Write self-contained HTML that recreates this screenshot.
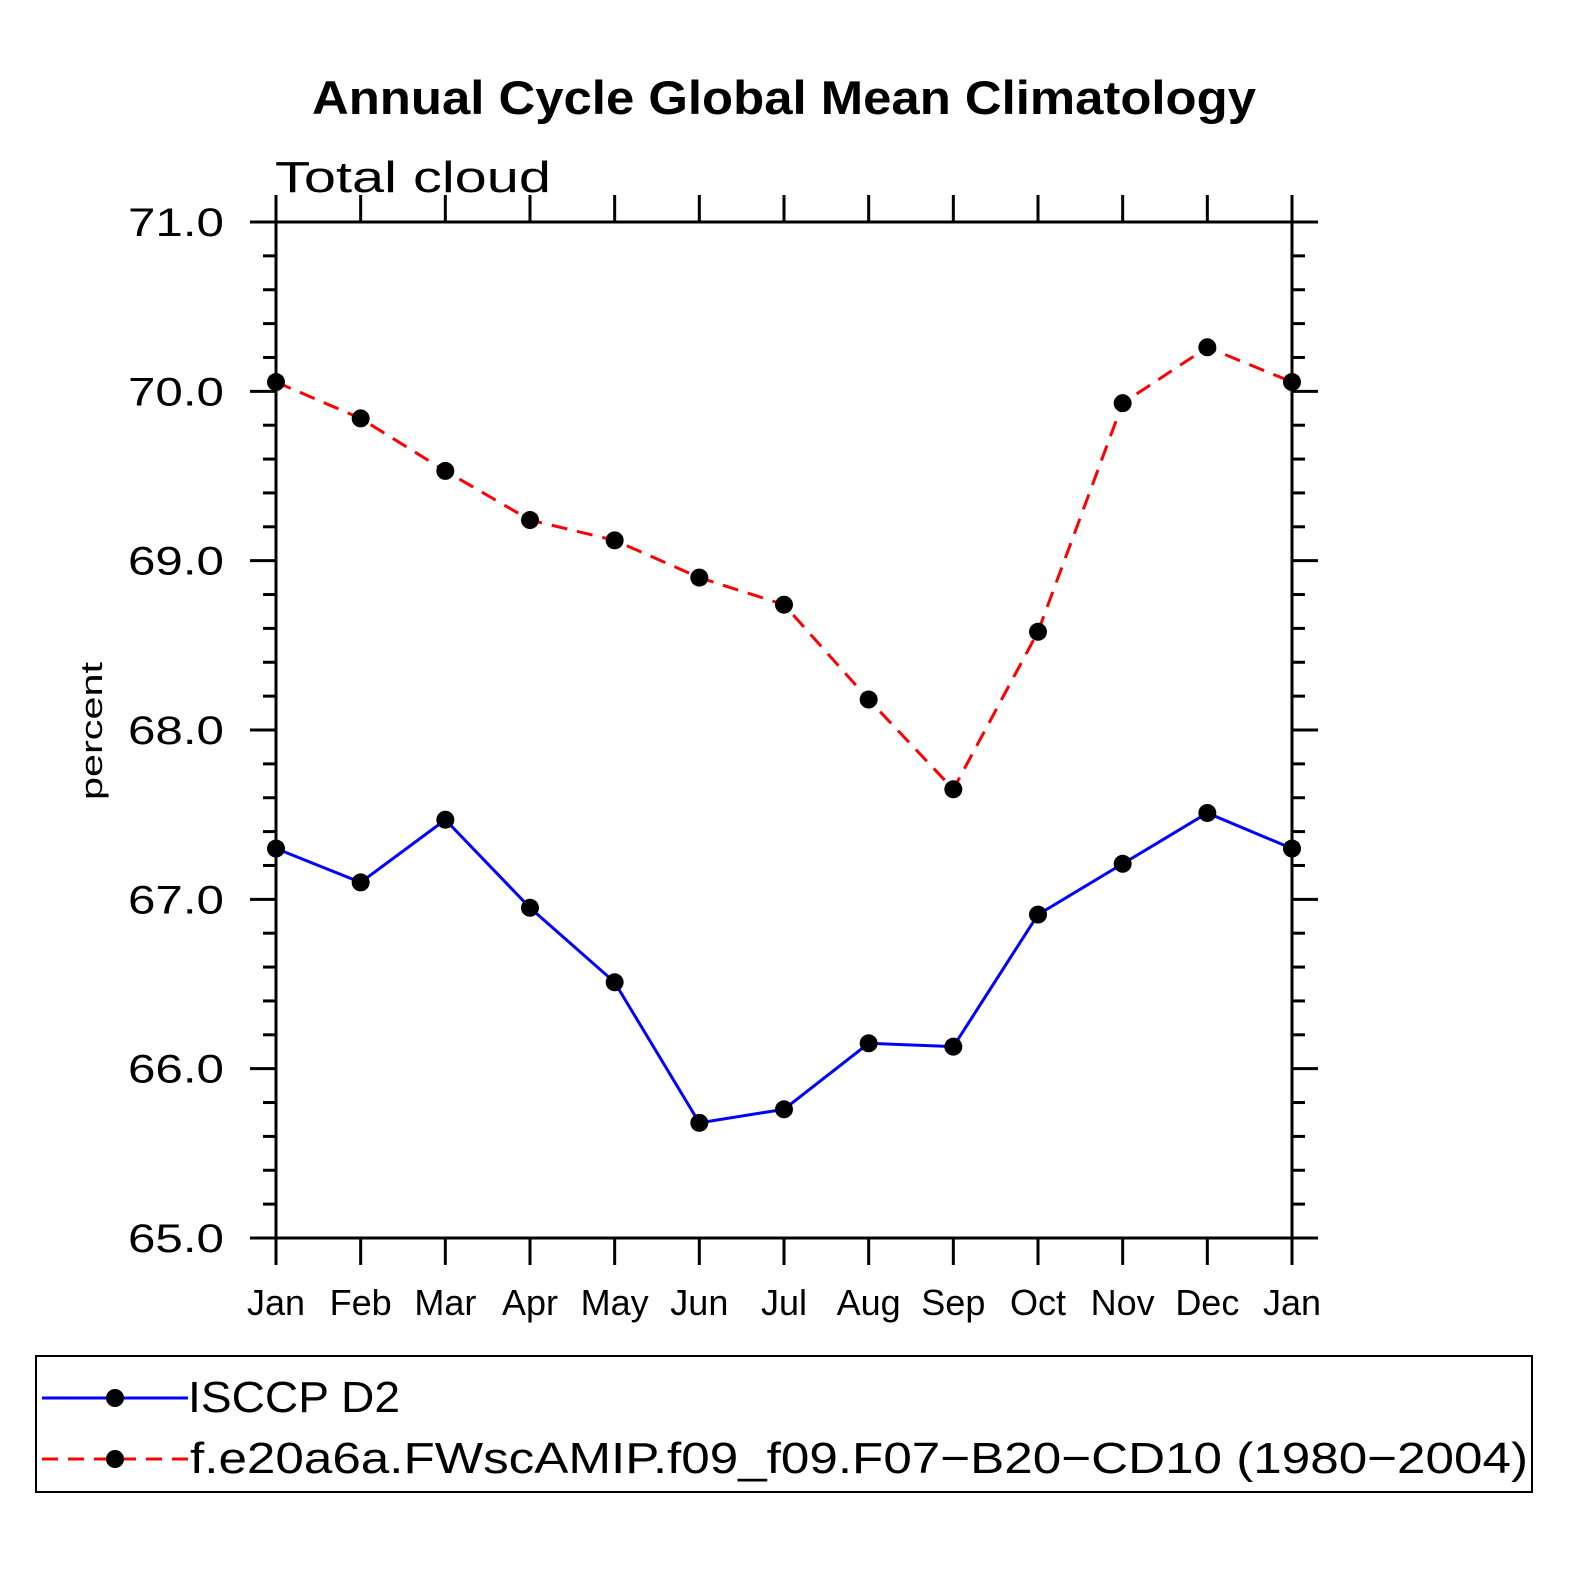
<!DOCTYPE html>
<html><head><meta charset="utf-8"><style>
html,body{margin:0;padding:0;background:#fff;width:1574px;height:1574px;overflow:hidden}
svg{display:block;position:absolute;left:0;top:0}
text{font-family:"Liberation Sans",sans-serif;fill:#000}
</style></head><body>
<svg id="chart" width="1574" height="1574" viewBox="0 0 1574 1574" xmlns="http://www.w3.org/2000/svg">
<text x="784" y="114" text-anchor="middle" font-size="47" font-weight="bold" textLength="944" lengthAdjust="spacingAndGlyphs">Annual Cycle Global Mean Climatology</text>
<text x="275" y="192" font-size="44" font-weight="300" textLength="276" lengthAdjust="spacingAndGlyphs">Total cloud</text>
<text transform="translate(102,731) rotate(-90)" text-anchor="middle" font-size="31" textLength="138" lengthAdjust="spacingAndGlyphs">percent</text>
<g id="axes"></g>
<g id="series"></g>
<g id="legend">
<rect x="36" y="1356" width="1496" height="136" fill="none" stroke="#000" stroke-width="2"/>
<line x1="42" y1="1398" x2="188" y2="1398" stroke="#00f" stroke-width="3"/>
<circle cx="115" cy="1398" r="9"/>
<text x="188" y="1412" font-size="44" textLength="212" lengthAdjust="spacingAndGlyphs">ISCCP D2</text>
<line x1="42" y1="1459" x2="188" y2="1459" stroke="#f00" stroke-width="3" stroke-dasharray="16,10"/>
<circle cx="115" cy="1459" r="9"/>
<text x="190" y="1473" font-size="44" textLength="1338" lengthAdjust="spacingAndGlyphs">f.e20a6a.FWscAMIP.f09_f09.F07−B20−CD10 (1980−2004)</text>
</g>
</svg>
<script>
const months = ["Jan","Feb","Mar","Apr","May","Jun","Jul","Aug","Sep","Oct","Nov","Dec","Jan"];
const isccpValues = [67.30,67.10,67.47,66.95,66.51,65.68,65.76,66.15,66.13,66.91,67.21,67.51,67.30];
const modelValues = [70.055,69.84,69.53,69.24,69.12,68.90,68.74,68.18,67.65,68.58,69.93,70.26,70.055];
const yTicks = [65,66,67,68,69,70,71];
const yTickLabels = ["65.0","66.0","67.0","68.0","69.0","70.0","71.0"];

const NS="http://www.w3.org/2000/svg";
const X0=276,X1=1292,Y0=1238,Y1=222,YMIN=65,YMAX=71;
function xs(i){return X0+(X1-X0)*i/(months.length-1);}
function ys(v){return Y0-(v-YMIN)/(YMAX-YMIN)*(Y0-Y1);}
function mk(tag,attrs,parent){const e=document.createElementNS(NS,tag);for(const k in attrs)e.setAttribute(k,attrs[k]);parent.appendChild(e);return e;}
const axes=document.getElementById('axes');
const frame=mk('rect',{x:X0,y:Y1,width:X1-X0,height:Y0-Y1,fill:'none',stroke:'#000','stroke-width':3},axes);


months.forEach((m,i)=>{
  const x=xs(i);
  const t1=mk('line',{x1:x,y1:Y0,x2:x,y2:Y0+27,stroke:'#000','stroke-width':3},axes);
  
  
  const t2=mk('line',{x1:x,y1:Y1,x2:x,y2:Y1-27,stroke:'#000','stroke-width':3},axes);
  
  
  const lb=mk('text',{x:x,y:Y0+77,'text-anchor':'middle','font-size':36},axes);
  lb.textContent=m;
  
  
});
for(let k=0;k<=30;k++){
  const v=YMIN+k*0.2; const y=ys(v); const major=k%5===0;
  const len=major?26:13;
  const a=mk('line',{x1:X0-len,y1:y,x2:X0,y2:y,stroke:'#000','stroke-width':3},axes);
  
  
  const b=mk('line',{x1:X1,y1:y,x2:X1+len,y2:y,stroke:'#000','stroke-width':3},axes);
  
  
}
yTicks.forEach((v,i)=>{
  const lb=mk('text',{x:224,y:ys(v)+14,'text-anchor':'end','font-size':40,textLength:96,lengthAdjust:'spacingAndGlyphs'},axes);
  lb.textContent=yTickLabels[i];
  
  
});
const series=document.getElementById('series');
function draw(vals,color,dash,name){
  const pts=vals.map((v,i)=>xs(i)+','+ys(v)).join(' ');
  const pl=mk('polyline',{points:pts,fill:'none',stroke:color,'stroke-width':3},series);
  if(dash)pl.setAttribute('stroke-dasharray',dash);
  
  
  vals.forEach((v,i)=>{
    const c=mk('circle',{cx:xs(i),cy:ys(v),r:9,fill:'#000'},series);
    
    
  });
}
draw(modelValues,'#f00','16,10','model');
draw(isccpValues,'#00f',null,'isccp');
</script>
</body></html>
